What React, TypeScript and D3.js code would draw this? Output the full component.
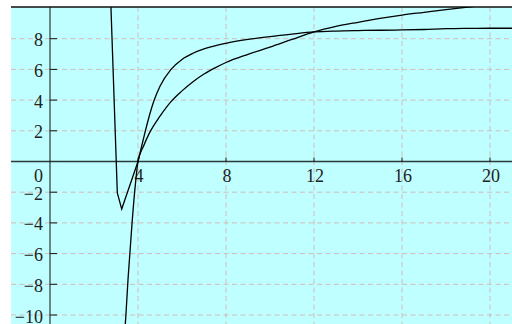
import React, { useEffect, useRef } from "react"
import * as d3 from "d3"

// curve with the dip near x = 3 (straight part, then smooth rise)
const dipX = [2.7, 3.06, 3.26, 4]
const dipY = [13, -2.05, -3.1, 0]
const curveAX = [4, 4.25, 4.5, 4.75, 5, 5.5, 6, 6.5, 7, 8, 9, 10, 11, 12, 13, 14, 15, 16, 17, 18, 19, 20, 21]
const curveAY = [0, 1.5, 2.9, 4.05, 4.9, 6.0, 6.65, 7.05, 7.33, 7.7, 7.95, 8.14, 8.3, 8.44, 8.5, 8.53, 8.55, 8.57, 8.6, 8.65, 8.67, 8.68, 8.68]

// slower log-like curve
const curveBX = [3.38, 3.45, 3.55, 3.73, 3.86, 4, 4.25, 4.5, 5, 5.5, 6, 6.5, 7, 7.5, 8, 9, 10, 11, 12, 13, 14, 15, 16, 17, 18, 19, 20, 21]
const curveBY = [-11.5, -10, -7.6, -4, -1.8, 0, 1.0, 1.8, 2.95, 3.9, 4.6, 5.2, 5.7, 6.1, 6.45, 6.98, 7.45, 7.95, 8.44, 8.8, 9.07, 9.32, 9.54, 9.72, 9.9, 10.06, 10.22, 10.38]

const xTicks = [4, 8, 12, 16, 20]
const yTicks = [-10, -8, -6, -4, -2, 2, 4, 6, 8]

const App = () => {
	const ref = useRef<SVGSVGElement>(null)

	useEffect(() => {
		const width = 512
		const height = 324
		const plotLeft = 11
		const plotTop = 7

		const x = d3.scaleLinear().domain([0, 20]).range([50, 490])
		const y = d3.scaleLinear().domain([0, 8]).range([161.5, 38.7])

		const svg = d3.select(ref.current)
		svg.selectAll("*").remove()

		svg
			.append("defs")
			.append("clipPath")
			.attr("id", "plot-clip")
			.append("rect")
			.attr("x", plotLeft)
			.attr("y", plotTop)
			.attr("width", width - plotLeft)
			.attr("height", height - plotTop)

		// background
		svg
			.append("rect")
			.attr("x", plotLeft)
			.attr("y", plotTop)
			.attr("width", width - plotLeft)
			.attr("height", height - plotTop)
			.style("fill", "#bfffff")

		// dashed grid
		const grid = svg.append("g").style("stroke", "#d2bcbc").style("stroke-dasharray", "5,3.5")
		grid
			.selectAll("line.v")
			.data(xTicks)
			.join("line")
			.attr("class", "v")
			.attr("x1", d => x(d))
			.attr("x2", d => x(d))
			.attr("y1", plotTop)
			.attr("y2", height)
		grid
			.selectAll("line.h")
			.data(yTicks)
			.join("line")
			.attr("class", "h")
			.attr("x1", plotLeft)
			.attr("x2", width)
			.attr("y1", d => y(d))
			.attr("y2", d => y(d))

		// top frame
		svg
			.append("line")
			.attr("x1", plotLeft)
			.attr("x2", width)
			.attr("y1", plotTop)
			.attr("y2", plotTop)
			.style("stroke", "#111")
			.style("stroke-width", 1.5)

		// axes
		svg
			.append("line")
			.attr("x1", plotLeft)
			.attr("x2", width)
			.attr("y1", y(0))
			.attr("y2", y(0))
			.style("stroke", "#2a3a3a")
			.style("stroke-width", 1.6)
		svg
			.append("line")
			.attr("x1", x(0))
			.attr("x2", x(0))
			.attr("y1", plotTop)
			.attr("y2", height)
			.style("stroke", "#111")
			.style("stroke-width", 1)

		// ticks
		svg
			.selectAll("line.xt")
			.data(xTicks)
			.join("line")
			.attr("class", "xt")
			.attr("x1", d => x(d))
			.attr("x2", d => x(d))
			.attr("y1", y(0))
			.attr("y2", y(0) - 4)
			.style("stroke", "#111")
		svg
			.selectAll("line.yt")
			.data(yTicks)
			.join("line")
			.attr("class", "yt")
			.attr("x1", x(0))
			.attr("x2", x(0) + 7)
			.attr("y1", d => y(d))
			.attr("y2", d => y(d))
			.style("stroke", "#111")

		// labels
		const font = "'Liberation Serif', serif"
		svg
			.selectAll("text.xl")
			.data(xTicks)
			.join("text")
			.attr("class", "xl")
			.attr("x", d => x(d) + 1)
			.attr("y", y(0) + 20.5)
			.attr("text-anchor", "middle")
			.style("font-family", font)
			.style("font-size", "18px")
			.style("fill", "#222")
			.text(d => d3.format("")(d))
		svg
			.append("text")
			.attr("x", 43)
			.attr("y", y(0) + 20.5)
			.attr("text-anchor", "end")
			.style("font-family", font)
			.style("font-size", "18px")
			.style("fill", "#222")
			.text("0")
		svg
			.selectAll("text.yl")
			.data(yTicks)
			.join("text")
			.attr("class", "yl")
			.attr("x", 43)
			.attr("y", d => y(d) + 7.5)
			.attr("text-anchor", "end")
			.style("font-family", font)
			.style("font-size", "18px")
			.style("fill", "#222")
			.text(d => (d < 0 ? "\u2212" + Math.abs(d) : String(d)))

		// curves
		const straight = d3
			.line<[number, number]>()
			.x(d => x(d[0]))
			.y(d => y(d[1]))
			.curve(d3.curveLinear)
		const smooth = d3
			.line<[number, number]>()
			.x(d => x(d[0]))
			.y(d => y(d[1]))
			.curve(d3.curveMonotoneX)

		const pairs = (xs: number[], ys: number[]) => xs.map((v, i) => [v, ys[i]] as [number, number])

		const curves = svg.append("g").attr("clip-path", "url(#plot-clip)")
		const paths = [
			straight(pairs(dipX, dipY)),
			smooth(pairs(curveAX, curveAY)),
			smooth(pairs(curveBX, curveBY)),
		]
		curves
			.selectAll("path")
			.data(paths)
			.join("path")
			.attr("d", d => d)
			.style("fill", "none")
			.style("stroke", "#000")
			.style("stroke-width", 1.3)
	}, [])

	return (
		<svg
			ref={ref}
			width={512}
			height={324}
			style={{ position: "absolute", left: 0, top: 0, display: "block" }}
		></svg>
	)
}

export default App
